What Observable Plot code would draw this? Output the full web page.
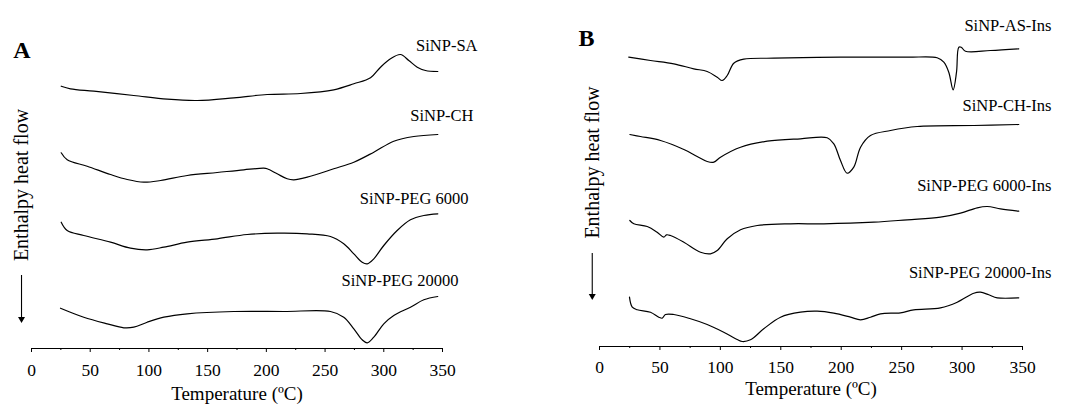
<!DOCTYPE html>
<html><head><meta charset="utf-8">
<script src="https://cdn.jsdelivr.net/npm/d3@7"></script>
<script src="https://cdn.jsdelivr.net/npm/@observablehq/plot@0.6"></script>
<style>
body{margin:0;background:#fff;}
#wrap{position:relative;width:1081px;height:408px;overflow:hidden;background:#fff;}
#wrap svg{position:absolute;top:0;}
</style></head><body><div id="wrap"></div>
<script>
// ---------- Data (temperature °C, heat flow in arbitrary units) ----------
const xTicks = [0, 50, 100, 150, 200, 250, 300, 350];
const xMinorTicks = [25, 75, 125, 175, 225, 275, 325];
const xTitle = "Temperature (ºC)";
const yTitle = "Enthalpy heat flow";

// Panel A
const namesA = ["SiNP-SA", "SiNP-CH", "SiNP-PEG 6000", "SiNP-PEG 20000"];
const tempSA = [25.3,33.2,53.1,87.1,115.6,141.1,172.3,200.7,229.1,257.4,274.5,288.7,297.2,305.7,314.2,321.3,328.5,335.5,346];
const flowSA = [262.3,259.7,257.3,253,249.3,248,250.7,254,255,258.7,264.7,270.7,281.3,289.7,294,288,281.3,278,277];
const tempCH = [25.3,30.4,47.4,67.3,81.5,95.6,109.9,132.6,158.1,180.8,197.8,200.7,209.2,217.7,223.4,234.8,257.4,274.5,291.5,308.5,325.6,346];
const flowCH = [195.7,188.7,182.3,174,169,166.3,168,173,176,178.7,180.3,179.7,174.7,169.7,168.7,171.3,179.7,186.3,196.3,207.3,212,214];
const tempPEG6 = [25.3,30.4,44.5,67.3,84.3,98.5,112.7,132.6,158.1,183.7,209.2,234.8,254.6,265.9,274.5,281.6,285.9,291.5,300,311.4,322.7,334.1,346];
const flowPEG6 = [126.3,118,113,106.3,100.3,98.7,101.3,106.3,109.7,114,115.3,114.7,112,104.7,94.7,86.3,84.7,89.7,103,118,128.7,133,134.7];
const tempPEG20 = [24.7,44.5,64.5,78.6,87.1,98.5,112.7,132.6,172.3,214.9,254.6,265.9,274.5,281.6,285.9,291.5,300,308.5,322.7,334.1,346];
const flowPEG20 = [40.3,31.3,24.7,20.7,21.3,26.3,31.3,34.7,37,37,37,31.3,19.7,8.7,5.7,11.3,24.7,33,41.3,48.7,52];

// Panel B
const namesB = ["SiNP-AS-Ins", "SiNP-CH-Ins", "SiNP-PEG 6000-Ins", "SiNP-PEG 20000-Ins"];
const tempASIns = [24.2,42.2,61.5,78,89.1,97.4,101.5,105.7,111.1,119.4,144.2,199.4,254.6,279.4,284.9,289,292.6,295.4,297.3,299.3,302.8,323.5,346.9];
const flowASIns = [289.3,286,282.7,277.7,275,269.3,266,271,283.3,287.3,288.3,289.3,289.3,288.7,284.3,274.3,256.7,274.3,299.3,299.3,295.3,296,297.7];
const tempCHIns = [25.1,33.9,50.5,69.8,80.8,89.1,94.6,100.1,116.7,138.8,166.3,188.4,193.9,199.4,204.9,210.4,216,224.2,240.8,262.9,309.7,346.9];
const flowCHIns = [212,210,206,197,190,185,184.3,189.3,199.3,205.3,207.7,208.7,202.7,186,173.3,179.3,199.3,211,216,220,221,222];
const tempPEG6Ins = [25.1,28.4,39.5,47.7,53.2,55.4,58.7,69.8,83.6,91.8,97.4,105.7,116.7,130.5,158,185.6,227,254.6,282.1,298.7,312.5,320.8,331.8,346.9];
const flowPEG6Ins = [126,122.7,120,114.3,109.3,111.7,111,104.3,94.3,92.7,96,107.7,116.7,121,122.7,122.7,124.3,126.7,129.3,133.3,138.7,140,137.7,135.3];
const tempPEG20Ins = [24.8,27.1,31.2,42.2,49.1,51.9,54.6,61.5,75.3,89.1,102.8,113.9,118.1,124.9,135.9,149.8,166.3,180.1,193.9,207.7,216,224.2,232.5,249,260,282.1,296,309.7,315.2,322.1,329.1,346.9];
const flowPEG20Ins = [49.3,39.3,36.7,34.3,29.3,28.3,32,32,27.7,22,14.3,7,5,6.7,17.7,29.3,34.3,35.3,33.3,29.3,26.7,29.3,32.7,33.7,36.7,38.7,44.3,53.3,54.3,51.7,48.7,48.7];

// ---------- Build tables ----------
function rows(name, T, F) { return T.map((t, i) => ({name, t, f: F[i]})); }
const dataA = [
  ...rows(namesA[0], tempSA, flowSA),
  ...rows(namesA[1], tempCH, flowCH),
  ...rows(namesA[2], tempPEG6, flowPEG6),
  ...rows(namesA[3], tempPEG20, flowPEG20)
];
const dataB = [
  ...rows(namesB[0], tempASIns, flowASIns),
  ...rows(namesB[1], tempCHIns, flowCHIns),
  ...rows(namesB[2], tempPEG6Ins, flowPEG6Ins),
  ...rows(namesB[3], tempPEG20Ins, flowPEG20Ins)
];

const FONT = "'Liberation Serif', 'Times New Roman', serif";

function panel(cfg) {
  const marks = [
    Plot.ruleY([0], {stroke: "black", strokeWidth: 1}),
    Plot.axisX({ticks: xTicks, tickSize: 4, tickPadding: cfg.tickPadding, label: null, fontSize: 17.5, stroke: "black"}),
    Plot.axisX({ticks: xMinorTicks, tickSize: 2, tickFormat: () => "", label: null, stroke: "black"}),
    Plot.line(cfg.data, {x: "t", y: "f", z: "name", curve: "catmull-rom", stroke: "black", strokeWidth: 1.2}),
    Plot.text(cfg.labels, {x: "x", y: "y", text: "name", textAnchor: "end", lineAnchor: "bottom", fontSize: 16.5, fill: "black"}),
    Plot.text([xTitle], {frameAnchor: "bottom", lineAnchor: "bottom", dy: cfg.titleDy, fontSize: 19, fill: "black"}),
    Plot.text([yTitle], {frameAnchor: "left", textAnchor: "middle", rotate: -90, lineAnchor: "middle", dx: cfg.ylabDx, dy: cfg.ylabDy, fontSize: 20, fill: "black"}),
    Plot.ruleX([cfg.arrow.x], {y1: cfg.arrow.y1, y2: cfg.arrow.y2 + 3, stroke: "black", strokeWidth: 1.1}),
    Plot.dot([cfg.arrow], {x: "x", y: d => d.y2 + 3.6, symbol: "triangle", rotate: 180, r: 2.6, fill: "black", stroke: null}),
    Plot.text([cfg.letter], {frameAnchor: "top-left", textAnchor: "start", lineAnchor: "bottom", dx: cfg.letterDx, dy: cfg.letterDy, fontSize: 24, fontWeight: "bold", fill: "black"})
  ];
  return Plot.plot({
    width: cfg.width, height: 408,
    marginLeft: cfg.ml, marginRight: cfg.mr, marginTop: cfg.mt, marginBottom: cfg.mb,
    x: {domain: [0, 350], axis: null},
    y: {domain: [0, 300], axis: null},
    style: {fontFamily: FONT, fontSize: "17px", background: "white", color: "black", overflow: "visible"},
    marks
  });
}

const svgA = panel({
  data: dataA, width: 540, ml: 31, mr: 98, mt: 48, mb: 60,
  tickPadding: 11, titleDy: 51, ylabDx: -10, ylabDy: -13.5,
  arrow: {x: -8.5, y1: 73, y2: 26}, letter: "A", letterDx: -18.3, letterDy: 9,
  labels: [
    {name: namesA[0], x: 379.8, y: 297.3},
    {name: namesA[1], x: 376.4, y: 227.3},
    {name: namesA[2], x: 372.1, y: 144.7},
    {name: namesA[3], x: 363.6, y: 62.3}
  ]
});
const svgB = panel({
  data: dataB, width: 541, ml: 59, mr: 59, mt: 46, mb: 62,
  tickPadding: 10.5, titleDy: 48, ylabDx: -7.3, ylabDy: -34,
  arrow: {x: -6.0, y1: 93, y2: 47}, letter: "B", letterDx: -21, letterDy: -1,
  labels: [
    {name: namesB[0], x: 374, y: 316},
    {name: namesB[1], x: 374, y: 236},
    {name: namesB[2], x: 374, y: 156},
    {name: namesB[3], x: 374, y: 68.7}
  ]
});
svgA.style.left = "0px";
svgB.style.left = "540px";
const wrap = document.getElementById("wrap");
wrap.appendChild(svgA);
wrap.appendChild(svgB);
</script></body></html>
